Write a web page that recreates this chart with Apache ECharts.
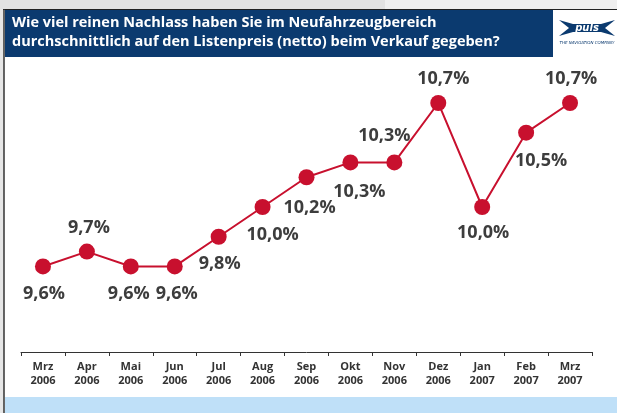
<!DOCTYPE html>
<html>
<head>
<meta charset="utf-8">
<script src="https://cdn.jsdelivr.net/npm/echarts@6/dist/echarts.min.js"></script>
<style>
  html, body { margin: 0; padding: 0; background: #fff; }
  #chart { width: 617px; height: 413px; }
</style>
</head>
<body>
<div id="chart"></div>
<script>
// Daten
var months = ['Mrz\n2006', 'Apr\n2006', 'Mai\n2006', 'Jun\n2006', 'Jul\n2006', 'Aug\n2006', 'Sep\n2006',
  'Okt\n2006', 'Nov\n2006', 'Dez\n2006', 'Jan\n2007', 'Feb\n2007', 'Mrz\n2007'];
var nachlass = [9.6, 9.7, 9.6, 9.6, 9.8, 10.0, 10.2, 10.3, 10.3, 10.7, 10.0, 10.5, 10.7];
var titleLines = ['Wie viel reinen Nachlass haben Sie im Neufahrzeugbereich',
  'durchschnittlich auf den Listenpreis (netto) beim Verkauf gegeben?'];

// label offsets (px) relative to the dot
var labelOffsets = [[1, 27], [2, -24], [-2, 27], [2, 27], [1, 27], [10, 28], [3, 31],
  [9, 29], [-10, -27], [5, -24], [1, 26], [15, 28], [1, -24]];

var red = '#c8102e';
var navy = '#0b3a6f';

var points = nachlass.map(function (v, i) {
  return {
    value: v,
    label: { position: 'inside', offset: labelOffsets[i] }
  };
});

var chart = echarts.init(document.getElementById('chart'));
chart.setOption({
  animation: false,
  backgroundColor: '#ffffff',
  title: {
    text: titleLines.join('\n'),
    left: 12,
    top: 13,
    padding: 0,
    textStyle: {
      color: '#ffffff',
      fontFamily: 'Open Sans',
      fontWeight: 'bold',
      fontSize: 14.5,
      lineHeight: 19
    }
  },
  graphic: [
    { type: 'rect', z: -10, shape: { x: 0, y: 0, width: 617, height: 9 }, style: { fill: '#e2e2e2' } },
    { type: 'rect', z: -10, shape: { x: 385, y: 0, width: 232, height: 9 }, style: { fill: '#efefef' } },
    { type: 'rect', z: -10, shape: { x: 0, y: 9, width: 4, height: 404 }, style: { fill: '#e6e6e6' } },
    { type: 'line', z: -5, shape: { x1: 3, y1: 9.5, x2: 617, y2: 9.5 }, style: { stroke: '#222', lineWidth: 1 } },
    { type: 'line', z: -5, shape: { x1: 4, y1: 9, x2: 4, y2: 413 }, style: { stroke: '#333', lineWidth: 1.5 } },
    { type: 'rect', z: -8, shape: { x: 5, y: 10, width: 548, height: 47 }, style: { fill: navy } },
    { type: 'rect', z: -8, shape: { x: 5, y: 397, width: 612, height: 16 }, style: { fill: '#bfe0f8' } },
    // logo
    {
      type: 'polygon', z: 5,
      shape: { points: [[559, 20], [573, 24], [601, 24], [615, 20], [605, 28], [615, 36], [601, 32], [573, 32], [559, 36], [569, 28]] },
      style: { fill: navy }
    },
    {
      type: 'text', z: 6, x: 587, y: 28,
      style: { text: 'puls', fill: '#fff', font: 'italic bold 10px "DejaVu Sans"', align: 'center', verticalAlign: 'middle' }
    },
    {
      type: 'text', z: 6, x: 587, y: 43,
      style: { text: 'THE NAVIGATION COMPANY', fill: navy, font: 'italic 4px "DejaVu Sans"', align: 'center', verticalAlign: 'middle' }
    }
  ],
  grid: { left: 21, right: 25, top: 58.4, bottom: 57.4 },
  xAxis: {
    type: 'category',
    data: months,
    boundaryGap: true,
    offset: -3.6,
    axisLine: { lineStyle: { color: '#333', width: 1 } },
    axisTick: { show: true, length: 4, interval: 0, alignWithLabel: false, lineStyle: { color: '#333' } },
    axisLabel: {
      interval: 0,
      margin: 8,
      color: '#333',
      fontFamily: 'Open Sans',
      fontWeight: 'bold',
      fontSize: 11,
      lineHeight: 14
    }
  },
  yAxis: {
    type: 'value',
    min: 9,
    max: 11,
    show: false,
    splitLine: { show: false }
  },
  series: [{
    type: 'line',
    data: points,
    symbol: 'circle',
    symbolSize: 16,
    itemStyle: { color: red },
    lineStyle: { color: red, width: 2 },
    label: {
      show: true,
      color: '#3d3d3d',
      fontFamily: 'Open Sans',
      fontWeight: 'bold',
      fontSize: 18,
      formatter: function (p) { return p.value.toFixed(1).replace('.', ',') + '%'; }
    }
  }]
});
</script>
</body>
</html>
